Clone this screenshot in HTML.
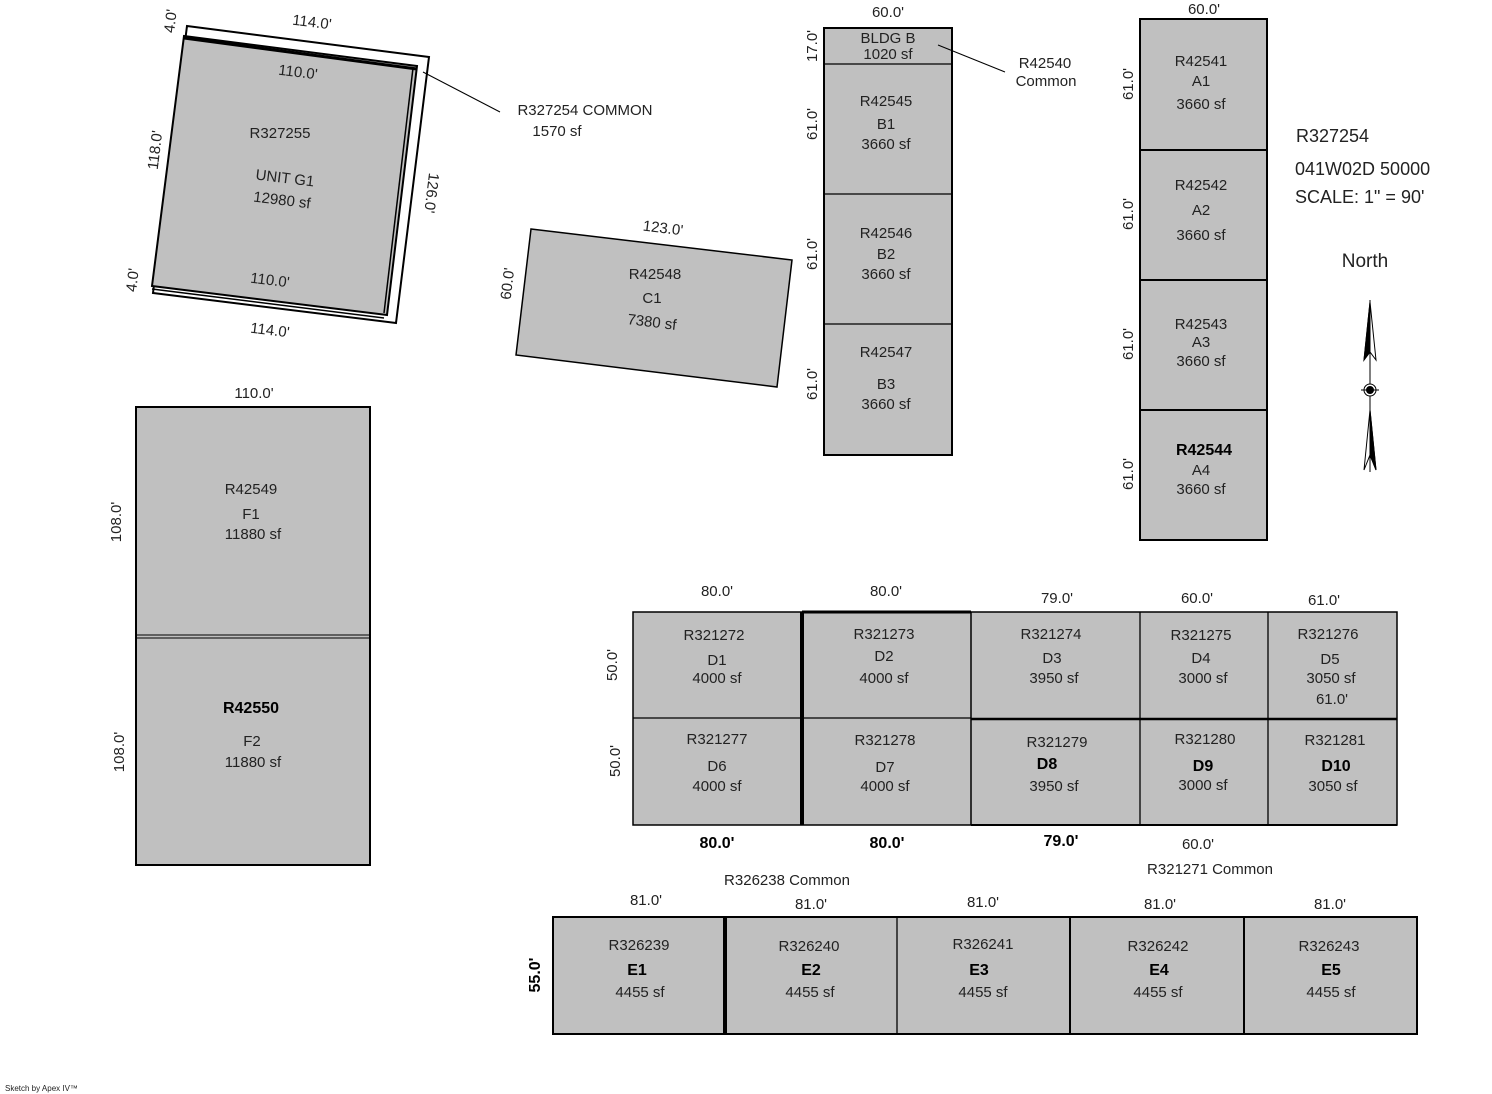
<!DOCTYPE html>
<html><head><style>
html,body{margin:0;padding:0;background:#fff;}
svg{display:block;}
text{font-family:"Liberation Sans",sans-serif;font-size:15px;fill:#222;}
.b{font-weight:bold;font-size:16px;fill:#000;}
</style></head><body>
<svg width="1492" height="1094" viewBox="0 0 1492 1094">
<g stroke="#000" stroke-width="1.3">
<polygon points="187,26 429,57 396,323 153,293" fill="#fff" stroke-width="2"/>
<polygon points="184,36 417,66 387,315 152,286" fill="#c0c0c0" stroke-width="2"/>
<line x1="184" y1="38" x2="417" y2="69" stroke-width="3"/>
<line x1="152" y1="289" x2="384" y2="318" stroke-width="1.5"/>
<line x1="413" y1="68" x2="384" y2="313" stroke-width="1.5"/>
<line x1="423" y1="72" x2="500" y2="112" stroke-width="1"/>
<polygon points="531,229 792,260 777,387 516,355" fill="#c0c0c0" stroke-width="1.5"/>
<rect x="824" y="28" width="128" height="427" fill="#c0c0c0" stroke-width="2"/>
<line x1="824" y1="64" x2="952" y2="64"/>
<line x1="824" y1="194" x2="952" y2="194"/>
<line x1="824" y1="324" x2="952" y2="324"/>
<line x1="938" y1="45" x2="1005" y2="72" stroke-width="1"/>
<rect x="1140" y="19" width="127" height="521" fill="#c0c0c0" stroke-width="2"/>
<line x1="1140" y1="150" x2="1267" y2="150" stroke-width="2"/>
<line x1="1140" y1="280" x2="1267" y2="280" stroke-width="2"/>
<line x1="1140" y1="410" x2="1267" y2="410" stroke-width="2"/>
<rect x="136" y="407" width="234" height="458" fill="#c0c0c0" stroke-width="2"/>
<line x1="136" y1="635" x2="370" y2="635" stroke-width="1"/>
<line x1="136" y1="638" x2="370" y2="638" stroke-width="1"/>
<rect x="633" y="612" width="764" height="213" fill="#c0c0c0" stroke-width="1.5"/>
<line x1="802" y1="612" x2="971" y2="612" stroke-width="3"/>
<line x1="971" y1="825" x2="1397" y2="825" stroke-width="2"/>
<line x1="633" y1="718" x2="971" y2="718"/>
<line x1="971" y1="719" x2="1397" y2="719" stroke-width="2.5"/>
<line x1="802" y1="612" x2="802" y2="825" stroke-width="4"/>
<line x1="971" y1="612" x2="971" y2="825" stroke-width="1.5"/>
<line x1="1140" y1="612" x2="1140" y2="825"/>
<line x1="1268" y1="612" x2="1268" y2="825"/>
<rect x="553" y="917" width="864" height="117" fill="#c0c0c0" stroke-width="2"/>
<line x1="725" y1="917" x2="725" y2="1034" stroke-width="4"/>
<line x1="897" y1="917" x2="897" y2="1034"/>
<line x1="1070" y1="917" x2="1070" y2="1034" stroke-width="2"/>
<line x1="1244" y1="917" x2="1244" y2="1034" stroke-width="2"/>
</g>
<g stroke="#000" stroke-width="1">
<line x1="1370" y1="300" x2="1370" y2="472"/>
<polygon points="1370,302 1364,360 1370,352 1376,360" fill="#fff"/>
<polygon points="1370,302 1364,360 1370,352" fill="#000"/>
<polygon points="1370,410 1364,470 1370,455 1376,470" fill="#fff"/>
<polygon points="1370,410 1376,470 1370,455" fill="#000"/>
<circle cx="1370" cy="390" r="6" fill="#fff"/>
<circle cx="1370" cy="390" r="3.5" fill="#000"/>
<line x1="1361" y1="390" x2="1379" y2="390"/>
</g>
<g text-anchor="middle">
<text x="312" y="27" transform="rotate(7 312 22)">114.0'</text>
<text x="298" y="77" transform="rotate(7 298 72)">110.0'</text>
<text x="280" y="138">R327255</text>
<text x="285" y="183" transform="rotate(7 285 178)">UNIT G1</text>
<text x="282" y="205" transform="rotate(7 282 200)">12980 sf</text>
<text x="270" y="285" transform="rotate(7 270 280)">110.0'</text>
<text x="270" y="335" transform="rotate(7 270 330)">114.0'</text>
<text x="155" y="155" transform="rotate(-83 155 150)">118.0'</text>
<text x="435" y="195" transform="rotate(97 432 190)">126.0'</text>
<text x="174" y="30" transform="rotate(-83 170 25)">4.0'</text>
<text x="136" y="289" transform="rotate(-83 132 284)">4.0'</text>
<text x="585" y="115">R327254 COMMON</text>
<text x="557" y="136">1570 sf</text>
<text x="663" y="233" transform="rotate(7 663 228)">123.0'</text>
<text x="514" y="290" transform="rotate(-83 510 288)">60.0'</text>
<text x="655" y="279">R42548</text>
<text x="652" y="303">C1</text>
<text x="652" y="327" transform="rotate(7 652 322)">7380 sf</text>
<text x="888" y="17">60.0'</text>
<text x="888" y="43">BLDG B</text>
<text x="888" y="59">1020 sf</text>
<text x="1045" y="68">R42540</text>
<text x="1046" y="86">Common</text>
<text x="886" y="106">R42545</text>
<text x="886" y="129">B1</text>
<text x="886" y="149">3660 sf</text>
<text x="886" y="238">R42546</text>
<text x="886" y="259">B2</text>
<text x="886" y="279">3660 sf</text>
<text x="886" y="357">R42547</text>
<text x="886" y="389">B3</text>
<text x="886" y="409">3660 sf</text>
<text transform="translate(817 46) rotate(-90)">17.0'</text>
<text transform="translate(817 124) rotate(-90)">61.0'</text>
<text transform="translate(817 254) rotate(-90)">61.0'</text>
<text transform="translate(817 384) rotate(-90)">61.0'</text>
<text x="1204" y="14">60.0'</text>
<text x="1201" y="66">R42541</text>
<text x="1201" y="86">A1</text>
<text x="1201" y="109">3660 sf</text>
<text x="1201" y="190">R42542</text>
<text x="1201" y="215">A2</text>
<text x="1201" y="240">3660 sf</text>
<text x="1201" y="329">R42543</text>
<text x="1201" y="347">A3</text>
<text x="1201" y="366">3660 sf</text>
<text x="1204" y="455" class="b">R42544</text>
<text x="1201" y="475">A4</text>
<text x="1201" y="494">3660 sf</text>
<text transform="translate(1133 84) rotate(-90)">61.0'</text>
<text transform="translate(1133 214) rotate(-90)">61.0'</text>
<text transform="translate(1133 344) rotate(-90)">61.0'</text>
<text transform="translate(1133 474) rotate(-90)">61.0'</text>
<text x="1296" y="142" text-anchor="start" style="font-size:18px">R327254</text>
<text x="1295" y="175" text-anchor="start" style="font-size:18px">041W02D 50000</text>
<text x="1295" y="203" text-anchor="start" style="font-size:18px">SCALE: 1" = 90'</text>
<text x="1365" y="267" style="font-size:19px">North</text>
<text x="254" y="398">110.0'</text>
<text x="251" y="494">R42549</text>
<text x="251" y="519">F1</text>
<text x="253" y="539">11880 sf</text>
<text x="251" y="713" class="b">R42550</text>
<text x="252" y="746">F2</text>
<text x="253" y="767">11880 sf</text>
<text transform="translate(121 522) rotate(-90)">108.0'</text>
<text transform="translate(124 752) rotate(-90)">108.0'</text>
<text x="717" y="596">80.0'</text>
<text x="886" y="596">80.0'</text>
<text x="1057" y="603">79.0'</text>
<text x="1197" y="603">60.0'</text>
<text x="1324" y="605">61.0'</text>
<text x="714" y="640">R321272</text><text x="717" y="665">D1</text><text x="717" y="683">4000 sf</text>
<text x="884" y="639">R321273</text><text x="884" y="661">D2</text><text x="884" y="683">4000 sf</text>
<text x="1051" y="639">R321274</text><text x="1052" y="663">D3</text><text x="1054" y="683">3950 sf</text>
<text x="1201" y="640">R321275</text><text x="1201" y="663">D4</text><text x="1203" y="683">3000 sf</text>
<text x="1328" y="639">R321276</text><text x="1330" y="664">D5</text><text x="1331" y="683">3050 sf</text><text x="1332" y="704">61.0'</text>
<text x="717" y="744">R321277</text><text x="717" y="771">D6</text><text x="717" y="791">4000 sf</text>
<text x="885" y="745">R321278</text><text x="885" y="772">D7</text><text x="885" y="791">4000 sf</text>
<text x="1057" y="747">R321279</text><text x="1047" y="769" class="b">D8</text><text x="1054" y="791">3950 sf</text>
<text x="1205" y="744">R321280</text><text x="1203" y="771" class="b">D9</text><text x="1203" y="790">3000 sf</text>
<text x="1335" y="745">R321281</text><text x="1336" y="771" class="b">D10</text><text x="1333" y="791">3050 sf</text>
<text transform="translate(617 665) rotate(-90)">50.0'</text>
<text transform="translate(620 761) rotate(-90)">50.0'</text>
<text x="717" y="848" class="b">80.0'</text>
<text x="887" y="848" class="b">80.0'</text>
<text x="1061" y="846" class="b">79.0'</text>
<text x="1198" y="849">60.0'</text>
<text x="1210" y="874">R321271  Common</text>
<text x="787" y="885">R326238  Common</text>
<text x="646" y="905">81.0'</text>
<text x="811" y="909">81.0'</text>
<text x="983" y="907">81.0'</text>
<text x="1160" y="909">81.0'</text>
<text x="1330" y="909">81.0'</text>
<text x="639" y="950">R326239</text><text x="637" y="975" class="b">E1</text><text x="640" y="997">4455 sf</text>
<text x="809" y="951">R326240</text><text x="811" y="975" class="b">E2</text><text x="810" y="997">4455 sf</text>
<text x="983" y="949">R326241</text><text x="979" y="975" class="b">E3</text><text x="983" y="997">4455 sf</text>
<text x="1158" y="951">R326242</text><text x="1159" y="975" class="b">E4</text><text x="1158" y="997">4455 sf</text>
<text x="1329" y="951">R326243</text><text x="1331" y="975" class="b">E5</text><text x="1331" y="997">4455 sf</text>
<text transform="translate(540 975) rotate(-90)" class="b">55.0'</text>
</g>
<text x="5" y="1091" style="font-size:8px">Sketch by Apex IV™</text>
</svg>
</body></html>
